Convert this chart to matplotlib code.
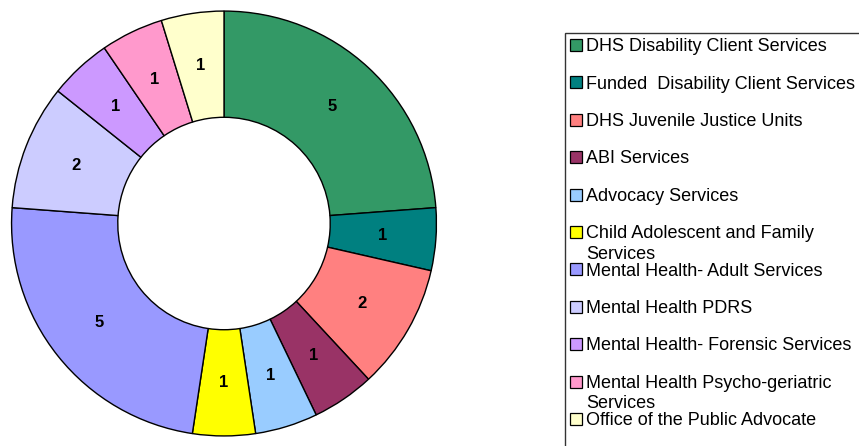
import matplotlib
matplotlib.use("Agg")
import matplotlib.pyplot as plt
from matplotlib.patches import Rectangle

categories = [
    "DHS Disability Client Services",
    "Funded  Disability Client Services",
    "DHS Juvenile Justice Units",
    "ABI Services",
    "Advocacy Services",
    "Child Adolescent and Family\nServices",
    "Mental Health- Adult Services",
    "Mental Health PDRS",
    "Mental Health- Forensic Services",
    "Mental Health Psycho-geriatric\nServices",
    "Office of the Public Advocate",
]
values = [5, 1, 2, 1, 1, 1, 5, 2, 1, 1, 1]
colors = ["#339966", "#008080", "#FF8080", "#993366", "#99CCFF", "#FFFF00",
          "#9999FF", "#CCCCFF", "#CC99FF", "#FF99CC", "#FFFFCC"]

plt.rcParams['font.family'] = ['Liberation Sans', 'DejaVu Sans']

W, H = 859, 446
fig = plt.figure(figsize=(W / 100, H / 100), dpi=100)

cx, cy, r = 224, 223.5, 213.5
ax = fig.add_axes([(cx - r) / W, (H - cy - r) / H, 2 * r / W, 2 * r / H])
total = sum(values)
wedges, texts, autotexts = ax.pie(
    values, colors=colors, startangle=90, counterclock=False,
    wedgeprops=dict(width=0.5, edgecolor="black", linewidth=1.0),
    autopct=lambda p: f"{round(p * total / 100):d}", pctdistance=0.75,
    textprops=dict(fontsize=12, fontweight="bold", color="black"))
ax.set_xlim(-1.005, 1.005)
ax.set_ylim(-1.005, 1.005)
ax.set_aspect("equal")

# legend box (extends past the figure edges)
box_left, box_top = 565, 33
fig.patches.append(Rectangle((box_left / W, -0.1), 1.2 - box_left / W,
                             (H - box_top) / H + 0.1, transform=fig.transFigure,
                             facecolor="white", edgecolor="#333333", linewidth=1.0,
                             zorder=0))

y0, dy, line_h = 45, 37.4, 20.6
sq = 12
for i, (lab, col) in enumerate(zip(categories, colors)):
    yc = y0 + i * dy
    fig.patches.append(Rectangle((570 / W, (H - yc - sq / 2) / H), sq / W, sq / H,
                                 transform=fig.transFigure, facecolor=col,
                                 edgecolor="black", linewidth=0.9, zorder=2))
    for j, line in enumerate(lab.split("\n")):
        fig.text(586 / W, (H - (yc + 6.2 + j * line_h)) / H, line, fontsize=13,
                 va="baseline", ha="left", zorder=3)

fig.savefig("out.png", dpi=100, facecolor="white")
